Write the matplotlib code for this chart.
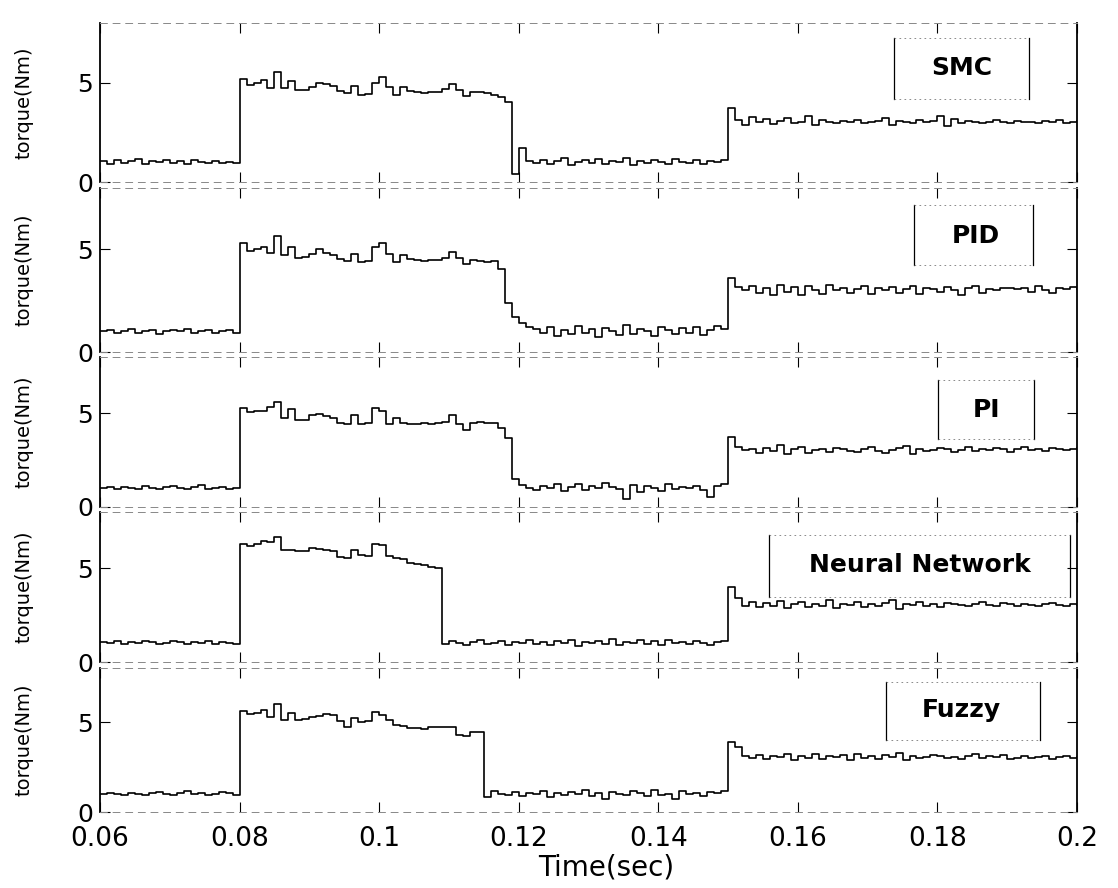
import numpy as np
import matplotlib
matplotlib.use("Agg")
import matplotlib.pyplot as plt

t_start = 0.060
t_step = 0.001

smc = [
    # low load
    1.05, 0.9, 1.1, 0.95, 1.05, 1.15, 0.9, 1.05, 1.0, 1.1,
    0.95, 1.05, 0.9, 1.1, 1.0, 0.95, 1.05, 0.95, 1.0, 0.95,
    # step load
    5.2, 4.9, 5.0, 5.15, 4.75, 5.55, 4.75, 5.1, 4.65, 4.65,
    4.8, 5.0, 4.95, 4.85, 4.6, 4.5, 4.85, 4.4, 4.45, 5.0,
    5.3, 4.8, 4.4, 4.8, 4.6, 4.55, 4.5, 4.55, 4.55, 4.7,
    4.95, 4.65, 4.35, 4.55, 4.55, 4.5, 4.4, 4.3, 4.05,
    # back to low load
    0.4, 1.7, 1.05, 0.95, 1.1, 0.9, 1.05, 1.2, 0.85, 1.0,
    1.1, 0.95, 1.15, 0.9, 1.05, 1.0, 1.2, 0.85, 1.05, 0.95,
    1.1, 1.0, 0.9, 1.15, 1.0, 0.95, 1.1, 0.9, 1.05, 1.0, 1.1,
    # medium load
    3.7, 3.1, 2.85, 3.25, 3.0, 3.15, 2.9, 3.05, 3.2, 2.95,
    3.0, 3.3, 2.85, 3.1, 3.0, 2.95, 3.05, 3.0, 3.1, 2.95,
    3.0, 3.05, 3.2, 2.85, 3.05, 3.0, 2.95, 3.1, 3.0, 3.05,
    3.3, 2.8, 3.15, 2.95, 3.05, 3.0, 2.95, 3.0, 3.1, 3.0,
    2.95, 3.05, 3.0, 3.0, 2.95, 3.05, 3.0, 3.1, 2.95, 3.0, 3.05,
]

pid = [
    1.0, 1.05, 0.95, 1.0, 1.1, 0.95, 1.0, 1.05, 0.9, 1.0,
    1.05, 1.0, 1.1, 0.95, 1.0, 1.05, 0.95, 1.0, 1.05, 0.95,
    5.3, 4.95, 5.0, 5.1, 4.85, 5.65, 4.75, 5.1, 4.6, 4.65,
    4.8, 5.0, 4.85, 4.75, 4.55, 4.45, 4.8, 4.4, 4.45, 5.1,
    5.3, 4.8, 4.4, 4.75, 4.55, 4.5, 4.45, 4.5, 4.5, 4.6,
    4.9, 4.6, 4.3, 4.5, 4.45, 4.4, 4.45, 4.05,
    2.4, 1.7, 1.4, 1.2, 1.1, 0.95, 1.2, 0.8, 1.05, 0.9,
    1.25, 0.95, 1.1, 0.75, 1.15, 1.0, 0.85, 1.3, 0.9, 1.1,
    1.0, 0.8, 1.2, 1.05, 0.9, 1.15, 0.95, 1.2, 0.85, 1.05, 1.25, 1.1,
    3.6, 3.15, 3.0, 3.2, 2.9, 3.1, 2.8, 3.25, 2.95, 3.15,
    2.8, 3.2, 3.0, 2.85, 3.25, 3.0, 3.1, 2.9, 3.05, 3.2,
    2.85, 3.1, 3.0, 3.15, 2.9, 3.05, 3.2, 2.85, 3.1, 3.05,
    2.95, 3.15, 3.0, 2.8, 3.1, 3.2, 2.9, 3.05, 3.0, 3.1,
    3.1, 3.05, 3.1, 2.95, 3.2, 3.0, 2.9, 3.1, 3.05, 3.15, 3.05,
]

pi = [
    1.0, 1.05, 0.95, 1.05, 1.0, 0.95, 1.1, 1.0, 0.95, 1.05,
    1.1, 1.0, 0.95, 1.05, 1.15, 0.95, 1.0, 1.05, 0.95, 1.0,
    5.3, 5.05, 5.1, 5.1, 5.35, 5.6, 4.75, 5.25, 4.65, 4.65,
    4.9, 4.95, 4.85, 4.75, 4.5, 4.45, 4.9, 4.45, 4.5, 5.3,
    5.1, 4.4, 4.75, 4.5, 4.45, 4.45, 4.5, 4.45, 4.5, 4.55,
    4.9, 4.45, 4.1, 4.5, 4.55, 4.5, 4.5, 4.2,
    3.7, 1.5, 1.15, 1.0, 0.9, 1.1, 1.0, 1.2, 0.85, 1.05,
    1.25, 0.9, 1.1, 1.0, 1.3, 1.05, 0.95, 0.45, 1.15, 0.8,
    1.1, 1.0, 0.85, 1.25, 0.95, 1.05, 1.0, 1.1, 0.9, 0.55, 1.1, 1.2,
    3.75, 3.2, 3.05, 3.1, 2.9, 3.15, 3.0, 3.3, 2.85, 3.1,
    3.2, 2.9, 3.05, 3.1, 2.95, 3.15, 3.1, 3.0, 2.95, 3.1,
    3.2, 3.0, 2.9, 3.05, 3.15, 3.25, 2.85, 3.1, 3.0, 3.05,
    3.15, 3.1, 2.95, 3.05, 3.2, 3.0, 3.1, 3.05, 3.15, 3.1,
    2.95, 3.1, 3.2, 3.05, 3.1, 3.0, 3.15, 3.1, 3.05, 3.1, 3.15,
]

nn = [
    1.05, 1.0, 1.1, 0.95, 1.05, 1.0, 1.1, 1.05, 0.95, 1.0,
    1.1, 1.05, 0.95, 1.05, 1.0, 1.1, 0.95, 1.05, 1.0, 0.95,
    6.3, 6.2, 6.3, 6.45, 6.4, 6.65, 6.0, 5.95, 5.9, 5.9,
    6.1, 6.05, 5.95, 5.9, 5.6, 5.55, 6.0, 5.7, 5.65, 6.3,
    6.25, 5.65, 5.55, 5.5, 5.3, 5.25, 5.2, 5.05, 5.0,
    0.95, 1.1, 1.0, 0.9, 1.05, 1.15, 0.95, 1.0, 1.1, 0.9,
    1.05, 1.0, 1.2, 0.95, 1.05, 0.9, 1.1, 1.0, 1.15, 0.85,
    1.05, 1.0, 1.1, 0.95, 1.25, 0.9, 1.05, 1.0, 1.15, 0.95,
    1.1, 0.9, 1.2, 1.0, 1.05, 0.95, 1.1, 1.0, 0.9, 1.05, 1.1,
    4.0, 3.4, 3.0, 3.2, 2.95, 3.15, 3.0, 3.25, 2.9, 3.1,
    3.2, 2.95, 3.1, 3.0, 3.3, 2.9, 3.1, 3.05, 3.2, 2.95,
    3.1, 3.0, 3.15, 3.3, 2.85, 3.1, 3.05, 3.2, 3.0, 3.1,
    2.95, 3.15, 3.1, 3.05, 3.0, 3.1, 3.2, 3.05, 3.0, 3.15,
    3.1, 3.0, 3.1, 3.05, 3.0, 3.1, 3.15, 3.05, 3.0, 3.1, 3.05,
]

fuzzy = [
    1.0, 1.05, 1.0, 0.95, 1.05, 1.0, 0.95, 1.05, 1.1, 1.0,
    0.95, 1.05, 1.15, 1.0, 1.05, 0.95, 1.0, 1.1, 1.05, 0.95,
    5.6, 5.45, 5.5, 5.65, 5.3, 6.0, 5.1, 5.5, 5.1, 5.15,
    5.3, 5.35, 5.45, 5.4, 5.05, 4.75, 5.25, 5.0, 5.05, 5.55,
    5.4, 5.1, 4.85, 4.8, 4.65, 4.65, 4.6, 4.7, 4.75, 4.7,
    4.75, 4.3, 4.25, 4.45, 4.45,
    0.85, 1.15, 1.0, 0.95, 1.1, 0.9, 1.05, 1.0, 1.15, 0.85,
    1.05, 0.95, 1.1, 1.0, 1.2, 0.9, 1.05, 0.75, 1.1, 1.0,
    0.95, 1.15, 1.05, 0.9, 1.25, 0.95, 1.0, 0.7, 1.15, 1.0,
    1.05, 0.9, 1.1, 1.05, 1.15,
    3.9, 3.6, 3.1, 3.0, 3.15, 2.95, 3.1, 3.05, 3.2, 2.9,
    3.1, 3.0, 3.25, 2.95, 3.1, 3.05, 3.15, 2.9, 3.2, 3.0,
    3.1, 2.95, 3.15, 3.05, 3.3, 2.9, 3.1, 3.0, 3.05, 3.15,
    3.1, 3.0, 3.05, 2.95, 3.1, 3.2, 3.0, 3.1, 3.05, 3.15,
    2.95, 3.0, 3.1, 3.0, 3.05, 3.1, 2.95, 3.05, 3.1, 3.0, 3.05,
]

series = [smc, pid, pi, nn, fuzzy]
names = ["SMC", "PID", "PI", "Neural Network", "Fuzzy"]
xticks = [0.06, 0.08, 0.10, 0.12, 0.14, 0.16, 0.18, 0.20]
xtick_labels = ["0.06", "0.08", "0.1", "0.12", "0.14", "0.16", "0.18", "0.2"]

# panel extents in pixels (top, bottom) -- the scan is slightly uneven
W, H = 1118, 888
panel_px = [(23, 182), (188, 352), (357, 507), (512, 662), (668, 812)]
x_left, x_right = 100, 1077
# label boxes in axes fractions: x0, x1, y0, y1, text x, text y
boxes = [
    (0.813, 0.951, 0.52, 0.905, 0.882, 0.715),
    (0.833, 0.955, 0.53, 0.895, 0.896, 0.71),
    (0.858, 0.956, 0.45, 0.845, 0.907, 0.645),
    (0.685, 0.993, 0.435, 0.845, 0.839, 0.645),
    (0.805, 0.962, 0.50, 0.90, 0.882, 0.705),
]

fig = plt.figure(figsize=(W / 100, H / 100), dpi=100)
fig.patch.set_facecolor("white")

for k, (vals, name) in enumerate(zip(series, names)):
    top, bot = panel_px[k]
    ax = fig.add_axes([x_left / W, 1 - bot / H, (x_right - x_left) / W, (bot - top) / H])
    t = t_start + t_step * np.arange(len(vals))
    ax.plot(t, vals, color="black", lw=1.2, drawstyle="steps-post")

    ax.set_xlim(0.06, 0.2)
    ax.set_ylim(0, 8)
    ax.set_yticks([0, 5])
    ax.set_yticklabels(["0", "5"], fontsize=18)
    ax.set_xticks(xticks)
    ax.tick_params(direction="in", top=True, right=True, length=7, width=0.8, pad=5)
    if k == 4:
        ax.set_xticklabels(xtick_labels, fontsize=19)
        ax.tick_params(axis="x", pad=10)
        ax.set_xlabel("Time(sec)", fontsize=20)
        ax.xaxis.set_label_coords(0.518, -0.29)
    else:
        ax.set_xticklabels([])

    ax.set_ylabel("torque(Nm)", fontsize=14)
    ax.yaxis.set_label_coords(-0.068, 0.5)

    for side in ["left", "right"]:
        ax.spines[side].set_linewidth(1.3)
    for side in ["top", "bottom"]:
        ax.spines[side].set_linewidth(0.7)
        ax.spines[side].set_linestyle((0, (7, 6)))
        ax.spines[side].set_color("#888888")

    x0, x1, y0, y1, tx, ty = boxes[k]
    ax.plot([x0, x0], [y0, y1], color="black", lw=0.9, transform=ax.transAxes)
    ax.plot([x1, x1], [y0, y1], color="black", lw=0.9, transform=ax.transAxes)
    ax.plot([x0, x1], [y1, y1], color="#777777", lw=0.6, ls=(0, (2, 4)), transform=ax.transAxes)
    ax.plot([x0, x1], [y0, y0], color="#777777", lw=0.6, ls=(0, (2, 4)), transform=ax.transAxes)
    ax.text(tx, ty, name, transform=ax.transAxes, ha="center", va="center",
            fontsize=18, fontweight="bold", family="DejaVu Sans")

fig.savefig("out.png", dpi=100, facecolor="white")
